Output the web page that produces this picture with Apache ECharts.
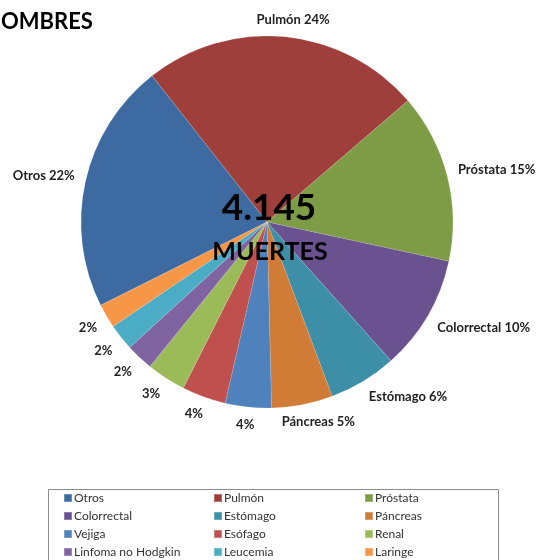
<!DOCTYPE html>
<html>
<head>
<meta charset="utf-8">
<script src="https://cdn.jsdelivr.net/npm/echarts@6/dist/echarts.min.js"></script>
<style>
  html, body { margin: 0; padding: 0; background: #fff; }
  #chart { width: 539px; height: 560px; }
</style>
</head>
<body>
<div id="chart"></div>
<script>
// categorías y muertes por tipo de cáncer (total 4.145)
const categorias = ['Otros', 'Pulmón', 'Próstata', 'Colorrectal', 'Estómago', 'Páncreas',
  'Vejiga', 'Esófago', 'Renal', 'Linfoma no Hodgkin', 'Leucemia', 'Laringe']
const muertes = [903, 1007, 609, 415, 245, 220, 166, 158, 141, 99, 95, 87]
const colores = ['#3D6AA0', '#9E3F3C', '#7E9C46', '#6A5190', '#3C8FA6', '#D07C36',
  '#4F81BD', '#C0504D', '#9BBB59', '#8064A2', '#4BACC6', '#F79646']
// las porciones pequeñas sólo muestran el porcentaje
const conNombre = ['Otros', 'Pulmón', 'Próstata', 'Colorrectal', 'Estómago', 'Páncreas']
const total = muertes.reduce((a, b) => a + b, 0)

const CX = 267, CY = 222, R = 186
const fuente = 'Lato, "Open Sans", sans-serif'

// miles con punto, como en el original
const conPunto = (n) => String(n).replace(/\B(?=(\d{3})+(?!\d))/g, '.')

const legendBase = {
  orient: 'vertical',
  top: 492,
  icon: 'rect',
  itemWidth: 8,
  itemHeight: 8,
  itemGap: 6,
  padding: 0,
  selectedMode: false,
  textStyle: { fontFamily: fuente, fontSize: 12, color: '#333', padding: [0, 0, 0, -3] }
}

const clamp = (v) => Math.max(-1, Math.min(1, v))

// coloca la etiqueta al estilo Excel: punto de anclaje fuera del borde,
// la caja se desplaza hacia fuera según la dirección de la porción
const etiquetaExcel = (p) => {
  const r = p.labelRect
  const ax = p.align === 'right' ? r.x + r.width + 4 : r.x - 4
  const ay = r.y + r.height / 2
  const len = Math.hypot(ax - CX, ay - CY)
  const ux = (ax - CX) / len, uy = (ay - CY) / len
  const px = CX + ux * (R + 11), py = CY + uy * (R + 11)
  return {
    x: px + clamp(2 * ux) * r.width / 2,
    y: py + clamp(2 * uy) * r.height / 2,
    align: 'center',
    verticalAlign: 'middle'
  }
}

const chart = echarts.init(document.getElementById('chart'))
chart.setOption({
  color: colores,
  animation: false,
  graphic: [
    {
      type: 'text', x: -16, y: 11,
      style: { text: 'HOMBRES', font: 'bold 22px ' + fuente, fill: '#000' }
    },
    {
      type: 'rect', shape: { x: 48.5, y: 489.5, width: 450, height: 90 },
      style: { fill: 'none', stroke: '#8c8c8c', lineWidth: 1 }
    },
    {
      type: 'text', x: 269, y: 208, z: 100,
      style: { text: conPunto(total), font: 'bold 37px ' + fuente, fill: '#000', align: 'center', verticalAlign: 'middle' }
    },
    {
      type: 'text', x: 270, y: 252, z: 100,
      style: { text: 'MUERTES', font: 'bold 25px ' + fuente, fill: '#000', align: 'center', verticalAlign: 'middle' }
    }
  ],
  legend: [
    Object.assign({}, legendBase, { left: 63, data: [categorias[0], categorias[3], categorias[6], categorias[9]] }),
    Object.assign({}, legendBase, { left: 213, data: [categorias[1], categorias[4], categorias[7], categorias[10]] }),
    Object.assign({}, legendBase, { left: 364, data: [categorias[2], categorias[5], categorias[8], categorias[11]] })
  ],
  series: [
    {
      type: 'pie',
      center: [CX, CY],
      radius: R,
      startAngle: 206.6,
      clockwise: true,
      avoidLabelOverlap: false,
      itemStyle: { borderColor: 'rgba(255,255,255,0.25)', borderWidth: 0.5 },
      label: {
        show: true,
        position: 'outside',
        distanceToLabelLine: 4,
        fontFamily: fuente,
        fontWeight: 'bold',
        fontSize: 13,
        color: '#222',
        formatter: (p) => {
          const pct = Math.round(p.percent) + '%'
          return conNombre.includes(p.name) ? p.name + ' ' + pct : pct
        }
      },
      labelLine: { show: false, length: 12, length2: 0 },
      labelLayout: etiquetaExcel,
      emphasis: { disabled: true },
      data: categorias.map((c, i) => ({ name: c, value: muertes[i] }))
    }
  ]
})
</script>
</body>
</html>
